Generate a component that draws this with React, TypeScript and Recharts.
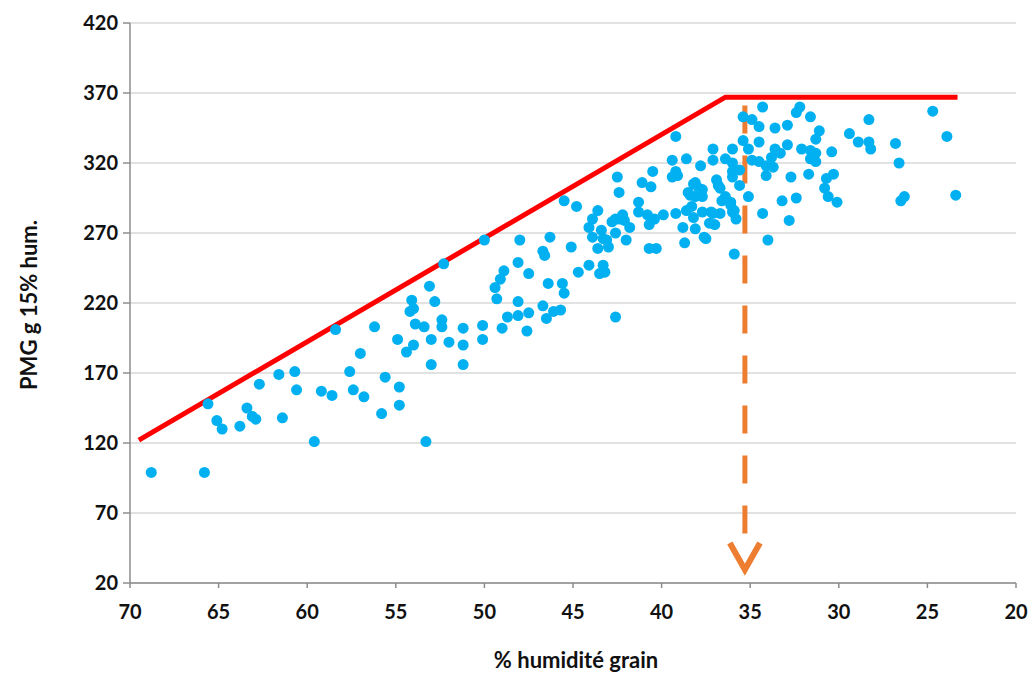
import { CartesianGrid, ComposedChart, Label, Line, Scatter, XAxis, YAxis } from "recharts";

// % humidité grain (x) and PMG g 15% hum. (y)
const grainHumidity = [
  68.8, 65.8, 65.6, 65.1, 64.8, 63.8, 63.4, 63.1, 62.9, 62.7, 61.6, 61.4, 60.7, 60.6, 59.6, 59.2, 58.6, 58.4,
  57.6, 57.0, 56.2, 55.6, 54.9, 54.4, 54.0, 54.2, 54.1, 54.0, 53.9, 53.4, 53.1, 53.0, 53.0, 52.8, 52.4, 52.4,
  52.3, 52.0, 51.2, 51.2, 51.2, 50.1, 50.1, 50.0, 49.4, 49.3, 49.1, 48.9, 49.0, 48.7, 48.1, 48.0, 48.1, 48.1,
  47.5, 47.5, 47.6, 46.7, 46.6, 46.7, 46.5, 46.4, 46.3, 57.4, 56.8, 54.8, 54.8, 55.8, 53.3,
  39.2, 37.1, 36.0, 39.4, 38.6, 37.1, 36.0, 37.8, 39.2, 39.4, 40.5, 42.5, 41.1, 40.6, 42.4, 38.1, 38.5, 38.1,
  36.9, 36.7, 36.4, 36.1, 36.0, 35.8, 36.0, 45.5, 44.8, 43.6, 43.9, 44.1, 43.9, 43.4, 42.8, 42.4, 42.1, 41.8,
  41.3, 41.3, 40.8, 40.7, 40.4, 39.9, 39.2, 38.6, 38.2, 37.7, 37.1, 38.8, 38.1, 37.3, 37.5, 38.7, 40.7, 40.3,
  42.0, 42.6, 43.1, 43.6, 43.3, 43.2, 43.5, 44.1, 44.7, 45.1, 35.9, 45.6, 45.5, 46.1, 45.7, 42.6,
  38.2, 37.9, 38.4, 37.7, 38.3, 39.1, 42.6, 42.2, 43.3, 43.0, 37.2, 37.0, 36.8, 36.6,
  34.3, 32.2, 32.4, 31.6, 35.4, 34.9, 34.5, 33.6, 32.9, 31.1, 31.3, 29.4, 28.9, 35.4, 34.5, 35.1, 33.6, 32.9,
  33.8, 33.3, 32.1, 31.6, 31.3, 30.4, 31.6, 31.3, 36.4, 34.9, 34.5, 34.1, 33.7, 36.0, 35.6, 34.1, 32.7, 31.7,
  30.3, 30.7, 30.8, 35.6, 35.1, 30.6, 30.1, 33.2, 32.4, 34.3, 32.8, 34.0, 36.1, 35.9, 36.7, 37.6, 37.7,
  24.7, 28.3, 28.3, 28.2, 26.8, 26.6, 23.9, 26.3, 26.5, 23.4
];

const grainWeight = [
  99, 99, 148, 136, 130, 132, 145, 139, 137, 162, 169, 138, 171, 158, 121, 157, 154, 201,
  171, 184, 203, 167, 194, 185, 190, 214, 222, 216, 205, 203, 232, 194, 176, 221, 208, 203,
  248, 192, 202, 190, 176, 204, 194, 265, 231, 223, 237, 243, 202, 210, 249, 265, 221, 211,
  241, 213, 200, 257, 254, 218, 209, 234, 267, 158, 153, 160, 147, 141, 121,
  339, 330, 330, 322, 323, 322, 320, 318, 314, 310, 314, 310, 306, 303, 299, 306, 299, 296,
  308, 302, 296, 290, 285, 280, 310, 293, 289, 286, 280, 274, 267, 272, 278, 280, 279, 274,
  292, 285, 283, 276, 280, 283, 284, 286, 281, 285, 284, 274, 273, 277, 266, 263, 259, 259,
  265, 270, 265, 259, 247, 242, 241, 247, 242, 260, 255, 234, 227, 214, 215, 210,
  305, 302, 297, 296, 289, 311, 280, 283, 266, 260, 285, 276, 304, 293,
  360, 360, 356, 353, 353, 351, 346, 345, 347, 343, 337, 341, 335, 336, 335, 330, 330, 333,
  324, 327, 330, 329, 327, 328, 323, 321, 323, 322, 321, 318, 317, 314, 315, 311, 310, 312,
  312, 309, 302, 304, 296, 296, 292, 293, 295, 284, 279, 265, 292, 286, 284, 267, 301,
  357, 351, 335, 330, 334, 320, 339, 296, 293, 297
];

// upper limit (red) and the dashed arrow at ~35 % humidity
const limitHumidity = [69.5, 36.4, 23.3];
const limitWeight = [122, 367, 367];
const arrowHumidity = [35.3, 35.3];
const arrowWeight = [361, 53];
const arrowHeadHumidity = [36.15, 35.3, 34.45];
const arrowHeadWeight = [48.5, 29.5, 48.5];

const xTicks = [20, 25, 30, 35, 40, 45, 50, 55, 60, 65, 70];
const yTicks = [20, 70, 120, 170, 220, 270, 320, 370, 420];

const points = grainHumidity.map((x, i) => ({ x, y: grainWeight[i] }));
const limitLine = limitHumidity.map((x, i) => ({ x, y: limitWeight[i] }));
const arrowLine = arrowHumidity.map((x, i) => ({ x, y: arrowWeight[i] }));
const arrowHead = arrowHeadHumidity.map((x, i) => ({ x, y: arrowHeadWeight[i] }));

const font = "Lato, 'Open Sans', sans-serif";
const tickStyle = { fontSize: 20, fontWeight: 700, fill: "#111", fontFamily: font };
const titleStyle = { fontSize: 22, fontWeight: 700, fill: "#111", fontFamily: font };
const axisGray = "#8c8c8c";

export default function App() {
  return (
    <div style={{ position: "absolute", left: 0, top: 0, background: "#fff" }}>
      <ComposedChart width={1028} height={675} margin={{ top: 23, right: 12, bottom: 0, left: 0 }}>
        <CartesianGrid vertical={false} stroke="#d9d9d9" strokeWidth={1.5} />
        <XAxis
          type="number"
          dataKey="x"
          domain={[20, 70]}
          ticks={xTicks}
          reversed
          height={92}
          tick={tickStyle}
          tickSize={5}
          tickMargin={17}
          stroke={axisGray}
          strokeWidth={1.5}
        >
          <Label
            content={() => (
              <text x={576} y={668} textAnchor="middle" style={titleStyle}>
                % humidité grain
              </text>
            )}
          />
        </XAxis>
        <YAxis
          type="number"
          dataKey="y"
          domain={[20, 420]}
          ticks={yTicks}
          width={130}
          tick={tickStyle}
          tickSize={7}
          tickMargin={5}
          stroke={axisGray}
          strokeWidth={1.5}
        >
          <Label
            content={() => (
              <text x={37} y={305} textAnchor="middle" transform="rotate(-90 37 305)" style={titleStyle}>
                PMG g 15% hum.
              </text>
            )}
          />
        </YAxis>
        <Line
          data={arrowLine}
          dataKey="y"
          stroke="#ED7D31"
          strokeWidth={5}
          strokeDasharray="28 22"
          dot={false}
          activeDot={false}
          isAnimationActive={false}
        />
        <Line
          data={arrowHead}
          dataKey="y"
          stroke="#ED7D31"
          strokeWidth={6}
          dot={false}
          activeDot={false}
          isAnimationActive={false}
        />
        <Scatter
          data={points}
          dataKey="y"
          fill="#00B0F0"
          isAnimationActive={false}
          shape={(p: any) => <circle cx={p.cx} cy={p.cy} r={5.5} fill="#00B0F0" />}
        />
        <Line
          data={limitLine}
          dataKey="y"
          stroke="#FF0000"
          strokeWidth={5}
          dot={false}
          activeDot={false}
          isAnimationActive={false}
        />
      </ComposedChart>
    </div>
  );
}
